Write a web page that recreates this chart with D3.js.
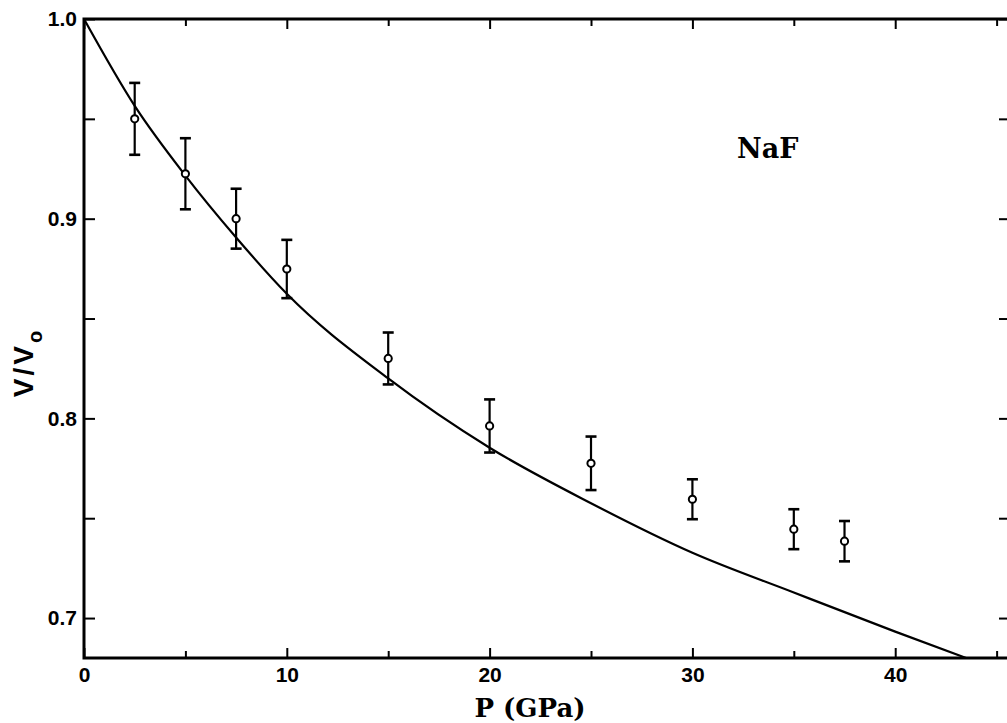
<!DOCTYPE html>
<html><head><meta charset="utf-8">
<script src="https://cdn.jsdelivr.net/npm/d3@7"></script>
<style>html,body{margin:0;padding:0;background:#fff;}svg{display:block;}</style>
</head><body>
<svg id="c" width="1007" height="723"></svg>
<script>
// Data (pressure in GPa, V/V0)
const pressures = [2.5, 5, 7.5, 10, 15, 20, 25, 30, 35, 37.5];
const volumes   = [0.950, 0.9225, 0.900, 0.8748, 0.830, 0.7962, 0.7775, 0.7595, 0.7445, 0.7385];
const errors    = [0.018, 0.0178, 0.015, 0.0146, 0.013, 0.0133, 0.0134, 0.010, 0.010, 0.0101];
const curveP = [0, 2.5, 5, 7.5, 10, 15, 20, 25, 30, 35, 40, 43.5];
const curveV = [1.0, 0.9565, 0.9216, 0.8906, 0.8624, 0.820, 0.7853, 0.7575, 0.7327, 0.7128, 0.6932, 0.68];
const xMajor = [0, 10, 20, 30, 40];
const xMinor = [5, 15, 25, 35, 45];
const yMajor = [0.7, 0.8, 0.9, 1.0];
const yMinor = [0.75, 0.85, 0.95];
const xTitle = "P (GPa)";
const label = "NaF";

const svg = d3.select("#c");
const x = d3.scaleLinear().domain([0, 45.66]).range([84, 1010]);
const y = d3.scaleLinear().domain([0.68, 1.0]).range([658, 19]);
const [X0, X1] = x.range(), [Y0, Y1] = y.range();

const tickFont = "'Liberation Sans', Arial, sans-serif";
function style(g) {
  g.select(".domain").remove();
  g.selectAll(".tick line").attr("stroke", "#000").attr("stroke-width", 2);
  g.selectAll(".tick text").attr("font-family", tickFont).attr("font-weight", "bold")
    .attr("font-size", 21).attr("fill", "#000");
}
// bottom
svg.append("g").attr("transform", `translate(0,${Y0})`)
  .call(d3.axisBottom(x).tickValues(xMajor).tickSize(-10).tickPadding(9).tickFormat(d3.format("d"))).call(style);
svg.append("g").attr("transform", `translate(0,${Y0})`)
  .call(d3.axisBottom(x).tickValues(xMinor).tickSize(-7).tickFormat("")).call(style);
// top
svg.append("g").attr("transform", `translate(0,${Y1})`)
  .call(d3.axisTop(x).tickValues(xMajor).tickSize(-10).tickFormat("")).call(style);
svg.append("g").attr("transform", `translate(0,${Y1})`)
  .call(d3.axisTop(x).tickValues(xMinor).tickSize(-7).tickFormat("")).call(style);
// left
svg.append("g").attr("transform", `translate(${X0},0)`)
  .call(d3.axisLeft(y).tickValues(yMajor).tickSize(-11).tickPadding(7).tickFormat(d3.format(".1f"))).call(style);
svg.append("g").attr("transform", `translate(${X0},0)`)
  .call(d3.axisLeft(y).tickValues(yMinor).tickSize(-11).tickFormat("")).call(style);
// right
svg.append("g").attr("transform", `translate(${X1},0)`)
  .call(d3.axisRight(y).tickValues(yMajor.concat(yMinor)).tickSize(-11).tickFormat("")).call(style);

// frame
svg.append("rect").attr("x", X0).attr("y", Y1).attr("width", X1 - X0).attr("height", Y0 - Y1)
  .attr("fill", "none").attr("stroke", "#000").attr("stroke-width", 3);

// curve
const curveData = curveP.map((p, i) => [p, curveV[i]]);
svg.append("path").datum(curveData)
  .attr("d", d3.line().x(d => x(d[0])).y(d => y(d[1])).curve(d3.curveMonotoneX))
  .attr("fill", "none").attr("stroke", "#000").attr("stroke-width", 2.2);

// error bars
const pts = pressures.map((p, i) => ({p, v: volumes[i], e: errors[i]}));
const eb = svg.append("g").attr("stroke", "#000").attr("stroke-width", 2.2);
pts.forEach(d => {
  const cx = x(d.p);
  eb.append("line").attr("x1", cx).attr("x2", cx).attr("y1", y(d.v + d.e)).attr("y2", y(d.v - d.e));
  [d.v + d.e, d.v - d.e].forEach(v => eb.append("line").attr("x1", cx - 5.5).attr("x2", cx + 5.5)
    .attr("y1", y(v)).attr("y2", y(v)).attr("stroke-width", 2.6));
});
svg.append("g").selectAll("circle").data(pts).join("circle")
  .attr("cx", d => x(d.p)).attr("cy", d => y(d.v)).attr("r", 3.6)
  .attr("fill", "#fff").attr("stroke", "#000").attr("stroke-width", 2);

// labels
const serif = "'DejaVu Serif', 'Liberation Serif', serif";
svg.append("text").attr("x", 530).attr("y", 717).attr("text-anchor", "middle")
  .attr("font-family", serif).attr("font-weight", "bold").attr("font-size", 26).text(xTitle);
svg.append("text").attr("x", 737).attr("y", 158)
  .attr("font-family", serif).attr("font-weight", "bold").attr("font-size", 27).text(label);

const yt = svg.append("text").attr("transform", "translate(33,364) rotate(-90)")
  .attr("text-anchor", "middle").attr("font-family", tickFont).attr("font-weight", "bold").attr("font-size", 28);
yt.append("tspan").attr("letter-spacing", 3).text("V/V");
yt.append("tspan").attr("font-size", 20).attr("dy", 9).text("o");
</script>
</body></html>
